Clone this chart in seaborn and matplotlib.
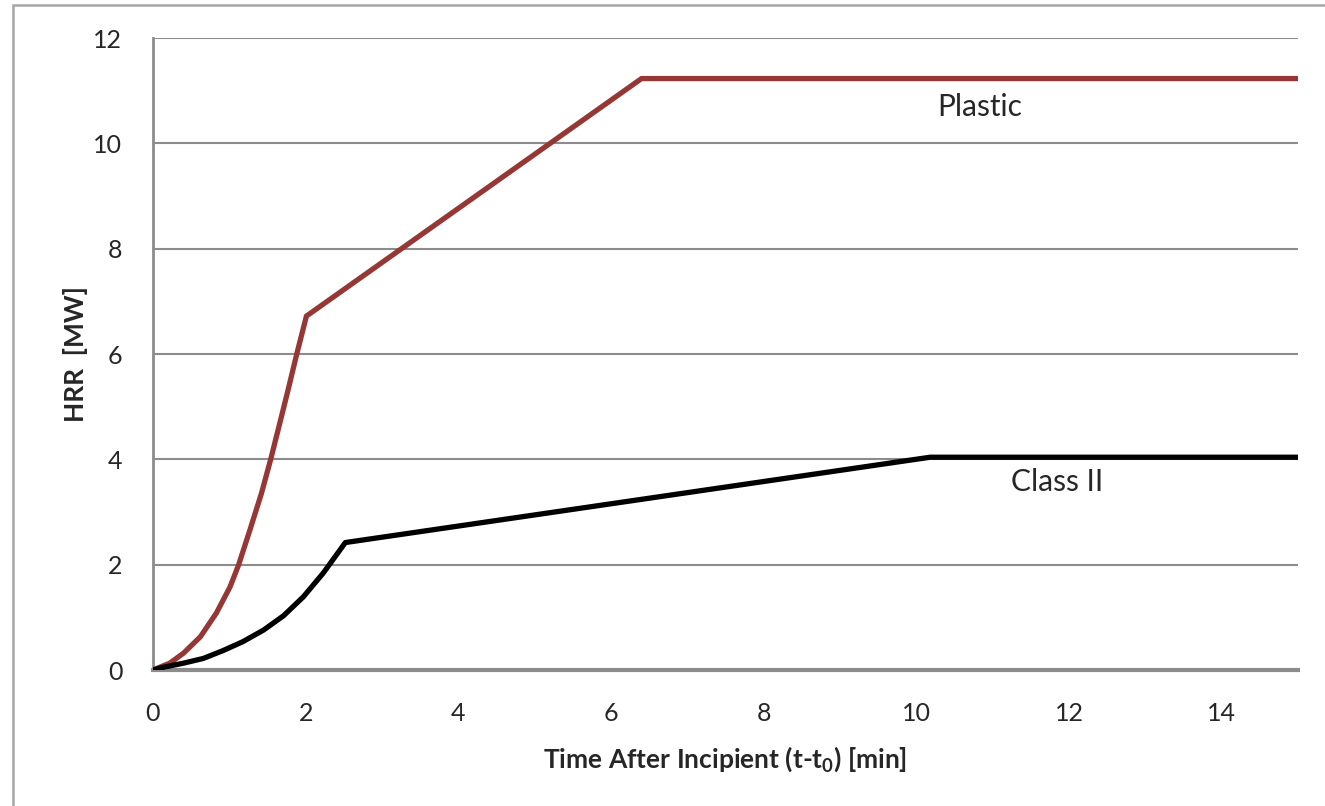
import numpy as np
import pandas as pd
import matplotlib.pyplot as plt
import seaborn as sns
from matplotlib.patches import Rectangle

# values
plastic_t = [0.0, 0.05, 0.22, 0.40, 0.62, 0.83, 1.01, 1.12, 1.27, 1.42, 1.54, 1.66,
             1.77, 1.88, 2.01, 6.40, 15.0]
plastic_hrr = [0.0, 0.03, 0.13, 0.32, 0.63, 1.08, 1.58, 1.99, 2.66, 3.35, 3.99, 4.68,
               5.32, 5.98, 6.72, 11.23, 11.23]
class2_t = [0.0, 0.13, 0.40, 0.66, 0.92, 1.18, 1.45, 1.71, 1.97, 2.23, 2.52, 10.18, 15.0]
class2_hrr = [0.0, 0.05, 0.13, 0.22, 0.37, 0.54, 0.76, 1.03, 1.39, 1.84, 2.42, 4.04, 4.04]

x_ticks = [0, 2, 4, 6, 8, 10, 12, 14]
y_ticks = [0, 2, 4, 6, 8, 10, 12]

plastic = pd.DataFrame({'t': plastic_t, 'hrr': plastic_hrr})
class2 = pd.DataFrame({'t': class2_t, 'hrr': class2_hrr})

sns.set_style("white")
plt.rcParams['font.family'] = ['Lato', 'DejaVu Sans']

fig = plt.figure(figsize=(13.25, 8.06), dpi=100)
ax = fig.add_axes([153/1325, 1 - 670/806, (1298 - 153)/1325, (670 - 38)/806])

# outer frame that runs off the right and bottom
fig.patches.append(Rectangle((13/1325, -0.1), 1.2, 1 - 5/806 + 0.1, transform=fig.transFigure,
                             fill=False, edgecolor='#a6a6a6', linewidth=1.8))

grid_c = '#8c8c8c'
text_c = '#262626'
for y in y_ticks[1:]:
    ax.axhline(y, color=grid_c, linewidth=1.5, zorder=1)

sns.lineplot(data=plastic, x='t', y='hrr', ax=ax, color='#953735', linewidth=3.8,
             solid_capstyle='round', solid_joinstyle='round', zorder=3)
sns.lineplot(data=class2, x='t', y='hrr', ax=ax, color='black', linewidth=3.8,
             solid_capstyle='round', solid_joinstyle='round', zorder=3)

ax.set_xlim(0, 15)
ax.set_ylim(0, 12)
ax.set_xticks(x_ticks)
ax.set_yticks(y_ticks)
ax.tick_params(axis='both', labelsize=18, colors=grid_c, labelcolor=text_c,
               direction='out', length=6, width=1.5)
ax.tick_params(axis='x', pad=17)
ax.tick_params(axis='y', pad=16)

for side in ['top', 'right']:
    ax.spines[side].set_visible(False)
ax.spines['left'].set_color(grid_c)
ax.spines['left'].set_linewidth(2)
ax.spines['bottom'].set_color(grid_c)
ax.spines['bottom'].set_linewidth(3)

ax.set_xlabel('Time After Incipient (t-t$_\\mathregular{0}$) [min]', fontsize=19,
              fontweight='bold', color=text_c, labelpad=14)
ax.set_ylabel('HRR  [MW]', fontsize=19, fontweight='bold', color=text_c, labelpad=4)

ax.text(10.83, 10.69, 'Plastic', fontsize=21.5, color=text_c, ha='center', va='center')
ax.text(11.85, 3.57, 'Class II', fontsize=21.5, color=text_c, ha='center', va='center')

fig.savefig('out.png', dpi=100)
